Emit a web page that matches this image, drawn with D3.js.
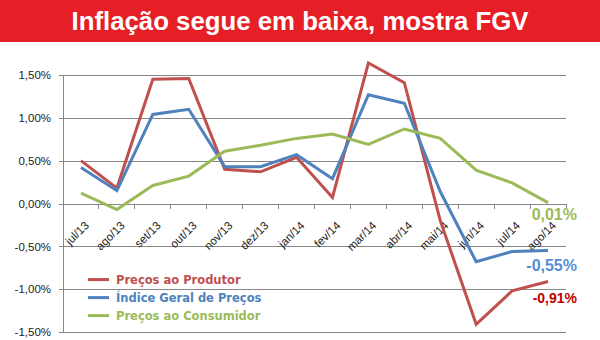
<!DOCTYPE html>
<html>
<head>
<meta charset="utf-8">
<script src="https://cdn.jsdelivr.net/npm/d3@7"></script>
<style>
  body { margin: 0; background: #fff; }
  svg { display: block; }
</style>
</head>
<body>
<script>
// months on the x axis
var months = ["jul/13", "ago/13", "set/13", "out/13", "nov/13", "dez/13", "jan/14",
              "fev/14", "mar/14", "abr/14", "mai/14", "jun/14", "jul/14", "ago/14"];

// monthly variation, %
var produtor   = [0.50, 0.18, 1.45, 1.46, 0.40, 0.37, 0.54, 0.07, 1.64, 1.41, -0.20, -1.41, -1.02, -0.91];
var geral      = [0.42, 0.15, 1.04, 1.10, 0.43, 0.43, 0.57, 0.29, 1.27, 1.17, 0.14, -0.68, -0.56, -0.55];
var consumidor = [0.12, -0.07, 0.21, 0.32, 0.61, 0.68, 0.76, 0.81, 0.69, 0.87, 0.76, 0.39, 0.24, 0.01];

var yTicks = [-1.5, -1.0, -0.5, 0, 0.5, 1.0, 1.5];

var series = [
  {name: "Preços ao Produtor", values: produtor, color: "#C0504D"},
  {name: "Índice Geral de Preços", values: geral, color: "#4F81BD"},
  {name: "Preços ao Consumidor", values: consumidor, color: "#9BBB59"}
];

var W = 600, H = 340;
var margin = {top: 75, right: 34, bottom: 8, left: 63},
    width = W - margin.left - margin.right,
    height = 257;

var svg = d3.select("body").append("svg")
    .attr("width", W)
    .attr("height", H);

// title bar
svg.append("rect")
    .attr("x", 0).attr("y", 0)
    .attr("width", W).attr("height", 42)
    .attr("fill", "#E61E25");
svg.append("text")
    .attr("x", W / 2)
    .attr("y", 30)
    .attr("text-anchor", "middle")
    .attr("textLength", 457)
    .attr("lengthAdjust", "spacingAndGlyphs")
    .style("font-family", "Liberation Sans, Arial, sans-serif")
    .style("font-weight", "bold")
    .style("font-size", "26px")
    .style("fill", "#fff")
    .text("Inflação segue em baixa, mostra FGV");

var g = svg.append("g")
    .attr("transform", "translate(" + margin.left + "," + margin.top + ")");

var x = d3.scaleBand().domain(months).range([0, width]);
var y = d3.scaleLinear().domain([-1.5, 1.5]).range([height, 0]);

function cx(i) { return x(months[i]) + x.bandwidth() / 2; }

// gridlines + y labels
var yAxis = d3.axisLeft(y)
    .tickValues(yTicks)
    .tickSize(-width - 4)
    .tickPadding(8)
    .tickFormat(function(d) { return d3.format(".2f")(d).replace(".", ",").replace("−", "-") + "%"; });

var ga = g.append("g")
    .attr("transform", "translate(-4,0)")
    .call(yAxis);
ga.select(".domain").remove();
ga.selectAll(".tick line")
    .attr("stroke", "#868686")
    .attr("x1", 0).attr("x2", width + 4)
    .attr("shape-rendering", "crispEdges");
ga.selectAll(".tick text")
    .attr("x", -8)
    .style("font-family", "Liberation Sans, Arial, sans-serif")
    .style("font-size", "11.5px")
    .style("fill", "#222");

// left axis line
g.append("line")
    .attr("x1", 0).attr("x2", 0)
    .attr("y1", 0).attr("y2", height)
    .attr("stroke", "#868686")
    .attr("shape-rendering", "crispEdges");

// category ticks on the zero line
g.append("g")
    .selectAll("line")
    .data(months)
    .enter().append("line")
    .attr("x1", function(d) { return x(d) + x.bandwidth(); })
    .attr("x2", function(d) { return x(d) + x.bandwidth(); })
    .attr("y1", y(0)).attr("y2", y(0) + 5)
    .attr("stroke", "#868686")
    .attr("shape-rendering", "crispEdges");

// month labels, rotated
g.append("g")
    .selectAll("text")
    .data(months)
    .enter().append("text")
    .attr("transform", function(d, i) {
      return "translate(" + (cx(i) + 3) + "," + (y(0) + 17) + ") rotate(-45)";
    })
    .attr("text-anchor", "end")
    .attr("dy", "0.7em")
    .style("font-family", "Liberation Sans, Arial, sans-serif")
    .style("font-size", "11.5px")
    .style("fill", "#222")
    .text(function(d) { return d; });

// lines
var line = d3.line()
    .x(function(d, i) { return cx(i); })
    .y(function(d) { return y(d); });

g.selectAll(".serie")
    .data(series)
    .enter().append("path")
    .attr("class", "serie")
    .attr("d", function(d) { return line(d.values); })
    .attr("fill", "none")
    .attr("stroke", function(d) { return d.color; })
    .attr("stroke-width", 3)
    .attr("stroke-linejoin", "miter");

// end labels
var last = months.length - 1;
var endLabels = [
  {text: "0,01%", value: consumidor[last], color: "#9BBB59", dy: 17, size: 16},
  {text: "-0,55%", value: geral[last], color: "#558ED5", dy: 20, size: 16},
  {text: "-0,91%", value: produtor[last], color: "#C00000", dy: 22, size: 14}
];
g.selectAll(".endlabel")
    .data(endLabels)
    .enter().append("text")
    .attr("class", "endlabel")
    .attr("x", width + 11)
    .attr("y", function(d) { return y(d.value) + d.dy; })
    .attr("text-anchor", "end")
    .style("font-family", "Liberation Sans, Arial, sans-serif")
    .style("font-weight", "bold")
    .style("font-size", function(d) { return d.size + "px"; })
    .style("fill", function(d) { return d.color; })
    .text(function(d) { return d.text; });

// legend
var legend = g.append("g")
    .attr("transform", "translate(25," + (y(-0.9) - 1) + ")");
var items = legend.selectAll("g")
    .data(series)
    .enter().append("g")
    .attr("transform", function(d, i) { return "translate(0," + (i * 18) + ")"; });
items.append("line")
    .attr("x1", 0).attr("x2", 21)
    .attr("stroke", function(d) { return d.color; })
    .attr("stroke-width", 3);
items.append("text")
    .attr("x", 28)
    .attr("dy", "0.35em")
    .style("font-family", "DejaVu Sans, Verdana, sans-serif")
    .style("font-weight", "bold")
    .style("font-size", "11.5px")
    .style("fill", function(d) { return d.color; })
    .text(function(d) { return d.name; });
</script>
</body>
</html>
